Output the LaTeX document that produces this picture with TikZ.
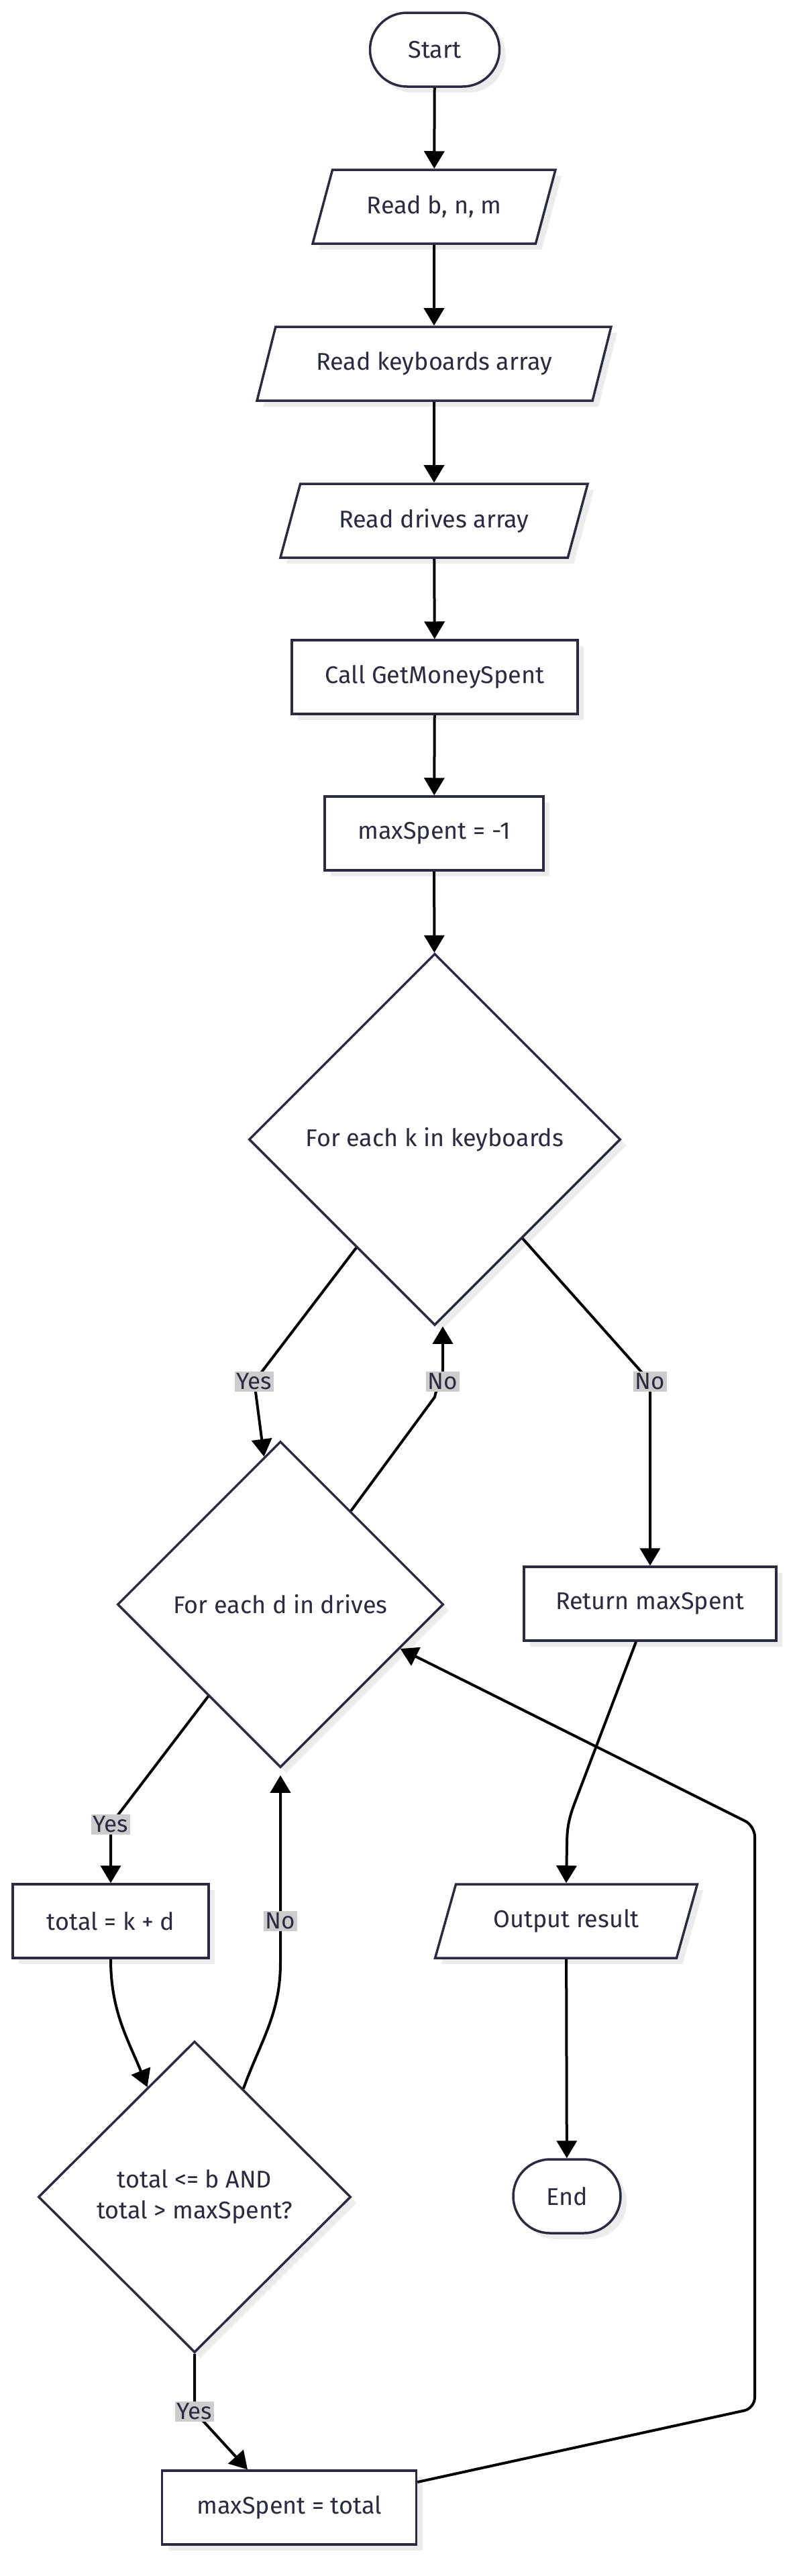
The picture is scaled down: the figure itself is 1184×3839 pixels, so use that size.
\documentclass[tikz,border=0pt]{standalone}
\usepackage{fontspec}
\setmainfont{Fira Sans}
\usetikzlibrary{arrows.meta,shapes.geometric,shadows,calc}
\definecolor{ink}{RGB}{42, 42, 64}
\definecolor{lgray}{RGB}{204, 204, 204}
\definecolor{shade}{RGB}{236, 236, 236}

\begin{document}
\begin{tikzpicture}[x=1pt, y=-1pt, font=\fontsize{36}{46}\selectfont, text=ink,
  box/.style={draw=ink, line width=3.5pt, fill=white, minimum height=110pt,
    drop shadow={shadow xshift=9pt, shadow yshift=-9pt, fill=shade, opacity=1}},
  term/.style={box, rectangle, rounded corners=55pt},
  io/.style={box, trapezium, trapezium left angle=63, trapezium right angle=117, trapezium stretches=true},
  proc/.style={box, rectangle},
  choice/.style={box, diamond, align=center},
  flow/.style={line width=4pt, -{Triangle[width=30pt,length=26pt]}},
  lbl/.style={fill=lgray, inner sep=3pt, font=\fontsize{35}{42}\selectfont}]
			\useasboundingbox (0,0) rectangle (1184,3839);
			\node (start) at (648,74) [term, minimum width=193pt] {Start};
			\node (rd) at (647,308) [io, minimum width=363pt] {Read b, n, m};
			\node (rk) at (647,542) [io, minimum width=530pt] {Read keyboards array};
			\node (rdr) at (647,776) [io, minimum width=460pt] {Read drives array};
			\node (call) at (648,1009) [proc, minimum width=426pt] {Call GetMoneySpent};
			\node (init) at (647,1242) [proc, minimum width=326pt] {maxSpent = -1};
			\node (fk) at (648,1698) [choice, minimum width=554pt, minimum height=554pt] {For each k in keyboards};
			\node (fd) at (418,2391) [choice, minimum width=486pt, minimum height=486pt] {For each d in drives};
			\node (ret) at (969,2390) [proc, minimum width=376pt] {Return maxSpent};
			\node (tot) at (165,2863) [proc, minimum width=292pt] {total = k + d};
			\node (out) at (844,2863) [io, minimum width=391pt] {Output result};
			\node (cmp) at (290,3274) [choice, minimum width=466pt, minimum height=464pt] {total <= b AND\\total > maxSpent?};
			\node (fin) at (845,3273) [term, minimum width=160pt] {End};
			\node (upd) at (431,3737) [proc, minimum width=379pt] {maxSpent = total};
			\draw[flow] (start) edge (rd);
			\draw[flow] (rd) edge (rk);
			\draw[flow] (rk) edge (rdr);
			\draw[flow] (rdr) edge (call);
			\draw[flow] (call) edge (init);
			\draw[flow] (init) edge (fk);
			\draw[flow] ($(fk.west)!0.58!(fk.south)$) -- (379,2059) node[lbl] {Yes} -- ($(fd.north)!0.1!(fd.west)$);
			\draw[flow] ($(fd.north)!0.43!(fd.east)$) -- (648,2082) to[out=80,in=-90] (660,2040) -- ([xshift=12pt]fk.south);
			\node at (660,2059) [lbl] {No};
			\draw[flow] ($(fk.east)!0.53!(fk.south)$) -- (969,2059) node[lbl] {No} -- (ret.north);
			\draw[flow] ([xshift=-21pt]ret.south) -- (857,2686) to[out=-111,in=90] (845,2750) -- (out.north);
			\draw[flow] (out) edge (fin);
			\draw[flow] ($(fd.west)!0.56!(fd.south)$) -- (165,2719) node[lbl] {Yes} -- (tot.north);
			\draw[flow] (tot.south) to[out=-90,in=112] ($(cmp.north)!0.3!(cmp.west)$);
			\draw[flow] ($(cmp.north)!0.31!(cmp.east)$) to[out=70,in=-90] (418,2925) -- (418,2863) node[lbl] {No} -- ([yshift=-10pt]fd.south);
			\draw[flow] (cmp.south) -- (290,3594) node[lbl] {Yes} -- ([xshift=-62pt]upd.north);
			\draw[flow, rounded corners=16pt] ([yshift=38pt]upd.east) -- (1125,3589) -- (1125,2721) -- ($(fd.east)!0.27!(fd.south)$);
			\end{tikzpicture}
\end{document}
